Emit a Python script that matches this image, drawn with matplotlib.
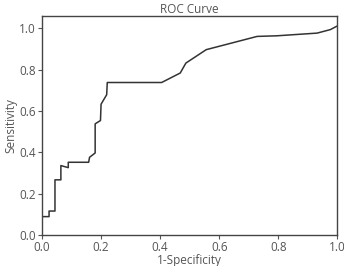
import matplotlib
matplotlib.use("Agg")
import matplotlib.pyplot as plt

# ROC curve points
fpr = [0.0, 0.024, 0.024, 0.044, 0.044, 0.064, 0.064, 0.089, 0.089, 0.158, 0.161,
       0.18, 0.18, 0.198, 0.2, 0.219, 0.221, 0.405, 0.468, 0.487, 0.556, 0.728,
       0.795, 0.931, 0.976, 1.0]
tpr = [0.089, 0.089, 0.116, 0.116, 0.267, 0.267, 0.336, 0.326, 0.352, 0.352, 0.376,
       0.397, 0.538, 0.554, 0.633, 0.679, 0.738, 0.738, 0.784, 0.832, 0.897, 0.961,
       0.964, 0.977, 0.994, 1.012]
ticks = [0.0, 0.2, 0.4, 0.6, 0.8, 1.0]

plt.rcParams['font.family'] = ['Open Sans', 'DejaVu Sans']
txt = '#555555'

fig = plt.figure(figsize=(3.44, 2.66), dpi=100)
ax = fig.add_axes([0.122, 0.1165, 0.859, 0.8235])
ax.plot(fpr, tpr, color='#333333', lw=1.1)
ax.set_xlim(0, 1.0)
ax.set_ylim(0, 1.06)
ax.set_xticks(ticks)
ax.set_yticks(ticks)
ax.set_xticklabels(['%.1f' % t for t in ticks])
ax.set_yticklabels(['%.1f' % t for t in ticks])
ax.tick_params(labelsize=8.5, colors=txt, length=3, width=0.8, pad=1.5)
for s in ax.spines.values():
    s.set_color('#444444')
    s.set_linewidth(1.0)
ax.set_title('ROC Curve', fontsize=8.5, color=txt, pad=0.5)
ax.set_xlabel('1-Specificity', fontsize=8.5, color=txt, labelpad=0)
ax.set_ylabel('Sensitivity', fontsize=8.5, color=txt, labelpad=1)

fig.savefig('out.png', dpi=100)
